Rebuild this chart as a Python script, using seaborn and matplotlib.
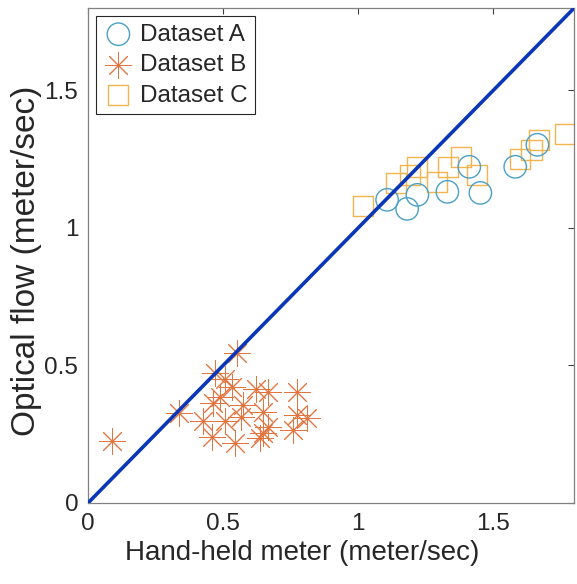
import matplotlib
matplotlib.use("Agg")
import matplotlib.pyplot as plt
import seaborn as sns
import pandas as pd

# values (meter/sec)
a_hand = [1.107, 1.181, 1.219, 1.330, 1.411, 1.452, 1.581, 1.663]
a_flow = [1.102, 1.069, 1.120, 1.131, 1.222, 1.127, 1.222, 1.302]

b_hand = [0.089, 0.337, 0.552, 0.470, 0.507, 0.533, 0.489, 0.463, 0.574, 0.426,
          0.507, 0.567, 0.459, 0.544, 0.622, 0.667, 0.774, 0.648, 0.774, 0.811,
          0.667, 0.648, 0.637, 0.759]
b_flow = [0.225, 0.327, 0.545, 0.473, 0.451, 0.422, 0.385, 0.364, 0.356, 0.298,
          0.298, 0.313, 0.240, 0.218, 0.415, 0.404, 0.404, 0.331, 0.320, 0.309,
          0.276, 0.255, 0.236, 0.265]

c_hand = [1.019, 1.141, 1.193, 1.219, 1.293, 1.333, 1.381, 1.441, 1.600, 1.641,
          1.670, 1.767]
c_flow = [1.080, 1.164, 1.193, 1.222, 1.167, 1.222, 1.258, 1.193, 1.251, 1.284,
          1.320, 1.342]

diag = [0, 1.8]
ticks = [0, 0.5, 1, 1.5]
tick_labels = ["0", "0.5", "1", "1.5"]

sns.set_style("white")
plt.rcParams["font.family"] = ["Liberation Sans", "DejaVu Sans"]

fig = plt.figure(figsize=(5.77, 5.84), dpi=100)
ax = fig.add_axes([0.1525, 0.1387, 0.843, 0.848])

df_a = pd.DataFrame({"hand": a_hand, "flow": a_flow})
df_b = pd.DataFrame({"hand": b_hand, "flow": b_flow})
df_c = pd.DataFrame({"hand": c_hand, "flow": c_flow})

sns.scatterplot(data=df_a, x="hand", y="flow", marker="o", s=260,
                facecolor="none", edgecolor="#4aa0c8", linewidth=1.0,
                label="Dataset A", ax=ax, zorder=3)
sns.scatterplot(data=df_b, x="hand", y="flow", marker=(8, 2, 0), s=340,
                color="#e2743f", linewidth=0.7,
                label="Dataset B", ax=ax, zorder=3)
sns.scatterplot(data=df_c, x="hand", y="flow", marker="s", s=210,
                facecolor="none", edgecolor="#f2b54e", linewidth=1.0,
                label="Dataset C", ax=ax, zorder=2)
sns.lineplot(x=diag, y=diag, color="#0a36b8", linewidth=2.6, ax=ax, zorder=4)

ax.set_xlim(0, 1.8)
ax.set_ylim(0, 1.8)
ax.set_xticks(ticks)
ax.set_xticklabels(tick_labels)
ax.set_yticks(ticks)
ax.set_yticklabels(tick_labels)
ax.tick_params(direction="in", length=4, width=0.8, colors="#404040",
               labelcolor="#262626", labelsize=17.5, top=True, right=True,
               pad=7)
for sp in ax.spines.values():
    sp.set_color("#808080")
    sp.set_linewidth(0.9)

ax.set_xlabel("Hand-held meter (meter/sec)", fontsize=20, color="#262626")
ax.xaxis.set_label_coords(0.44, -0.075, transform=ax.transAxes)
ax.set_ylabel("Optical flow (meter/sec)", fontsize=24, color="#262626")
ax.yaxis.set_label_coords(-0.094, 0.49, transform=ax.transAxes)

leg = ax.legend(loc="upper left", fontsize=17.5, frameon=True, fancybox=False,
                edgecolor="#262626", framealpha=1, borderpad=0.3,
                handletextpad=0.3, labelspacing=0.35, handlelength=1.2,
                borderaxespad=0.35)
leg.get_frame().set_linewidth(0.8)

fig.savefig("out.png", dpi=100)
